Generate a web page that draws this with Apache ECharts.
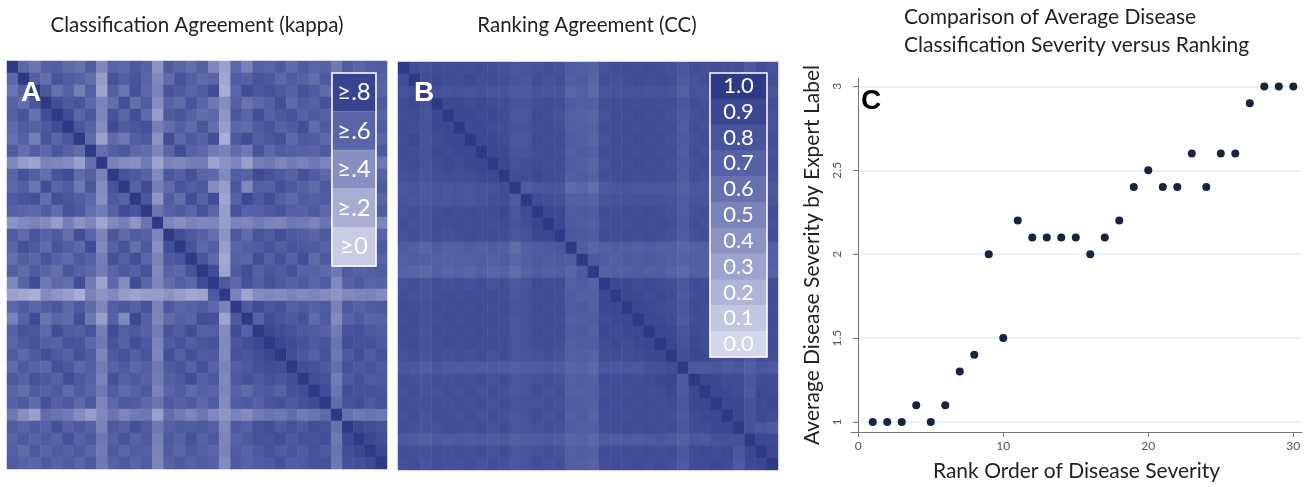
<!DOCTYPE html>
<html><head><meta charset="utf-8">
<script src="https://cdn.jsdelivr.net/npm/echarts@6/dist/echarts.min.js"></script>
<style>html,body{margin:0;padding:0;background:#fff}#c{width:1308px;height:487px}</style>
</head><body><div id="c"></div><script>
// ---------- DATA ----------
// 34 raters; lower triangle of the symmetric agreement matrices (diagonal = 1)
const raters = ['1','2','3','4','5','6','7','8','9','10','11','12','13','14','15','16','17','18','19','20','21','22','23','24','25','26','27','28','29','30','31','32','33','34'];
const kappaRows = [
 [],
 [0.66],
 [0.58,0.72],
 [0.70,0.62,0.78],
 [0.72,0.80,0.60,0.84],
 [0.64,0.74,0.70,0.76,0.86],
 [0.60,0.70,0.52,0.80,0.68,0.78],
 [0.74,0.62,0.72,0.66,0.78,0.70,0.64],
 [0.46,0.34,0.30,0.50,0.48,0.44,0.32,0.62],
 [0.68,0.82,0.72,0.62,0.80,0.86,0.64,0.72,0.50],
 [0.66,0.72,0.58,0.84,0.68,0.74,0.56,0.78,0.44,0.80],
 [0.76,0.80,0.82,0.62,0.84,0.78,0.72,0.66,0.42,0.76,0.70],
 [0.70,0.68,0.66,0.74,0.64,0.82,0.76,0.62,0.54,0.70,0.86,0.78],
 [0.40,0.46,0.50,0.44,0.34,0.52,0.40,0.48,0.30,0.46,0.52,0.38,0.58],
 [0.74,0.64,0.80,0.70,0.76,0.62,0.84,0.68,0.50,0.78,0.64,0.74,0.70,0.48],
 [0.68,0.82,0.76,0.64,0.80,0.72,0.66,0.86,0.46,0.70,0.80,0.62,0.76,0.42,0.84],
 [0.62,0.72,0.68,0.80,0.70,0.64,0.76,0.70,0.52,0.82,0.72,0.84,0.68,0.50,0.76,0.80],
 [0.72,0.64,0.74,0.68,0.62,0.78,0.70,0.66,0.54,0.68,0.76,0.70,0.82,0.46,0.70,0.66,0.80],
 [0.46,0.68,0.86,0.56,0.66,0.62,0.84,0.54,0.30,0.66,0.44,0.86,0.68,0.48,0.62,0.72,0.66,0.86],
 [0.32,0.28,0.24,0.44,0.38,0.34,0.24,0.50,0.40,0.46,0.34,0.30,0.34,0.34,0.40,0.34,0.28,0.30,0.76],
 [0.66,0.74,0.68,0.72,0.78,0.66,0.76,0.64,0.48,0.72,0.78,0.70,0.82,0.50,0.76,0.68,0.70,0.74,0.66,0.50],
 [0.50,0.70,0.86,0.58,0.68,0.64,0.84,0.56,0.32,0.70,0.46,0.88,0.70,0.48,0.64,0.72,0.68,0.84,0.82,0.30,0.76],
 [0.70,0.80,0.78,0.66,0.84,0.74,0.72,0.80,0.52,0.86,0.72,0.76,0.70,0.54,0.80,0.74,0.84,0.70,0.72,0.44,0.86,0.70],
 [0.68,0.76,0.82,0.72,0.70,0.80,0.78,0.66,0.56,0.80,0.70,0.84,0.76,0.50,0.74,0.80,0.72,0.78,0.82,0.46,0.78,0.84,0.88],
 [0.74,0.66,0.76,0.84,0.76,0.70,0.82,0.74,0.48,0.76,0.82,0.72,0.80,0.48,0.84,0.72,0.82,0.74,0.76,0.44,0.82,0.78,0.84,0.90],
 [0.64,0.76,0.70,0.66,0.82,0.76,0.66,0.72,0.54,0.70,0.76,0.66,0.72,0.56,0.76,0.80,0.70,0.82,0.70,0.50,0.72,0.76,0.82,0.86,0.84],
 [0.76,0.70,0.82,0.76,0.70,0.84,0.76,0.70,0.50,0.82,0.70,0.76,0.70,0.54,0.72,0.76,0.84,0.70,0.76,0.46,0.76,0.82,0.76,0.82,0.78,0.84],
 [0.68,0.62,0.74,0.70,0.76,0.64,0.74,0.68,0.56,0.74,0.64,0.70,0.76,0.50,0.68,0.74,0.64,0.70,0.68,0.48,0.70,0.64,0.74,0.76,0.70,0.82,0.84],
 [0.70,0.76,0.64,0.82,0.70,0.76,0.66,0.76,0.48,0.66,0.76,0.74,0.66,0.58,0.76,0.70,0.76,0.66,0.74,0.44,0.74,0.76,0.70,0.80,0.82,0.76,0.82,0.86],
 [0.56,0.42,0.32,0.62,0.58,0.54,0.44,0.34,0.46,0.58,0.48,0.54,0.56,0.32,0.62,0.54,0.48,0.56,0.46,0.38,0.50,0.44,0.54,0.58,0.56,0.62,0.54,0.58,0.64],
 [0.74,0.68,0.76,0.70,0.82,0.70,0.76,0.70,0.50,0.76,0.70,0.82,0.74,0.56,0.70,0.76,0.74,0.76,0.70,0.46,0.76,0.70,0.82,0.84,0.76,0.82,0.76,0.84,0.82,0.60],
 [0.68,0.76,0.70,0.76,0.70,0.82,0.70,0.76,0.56,0.70,0.80,0.70,0.76,0.52,0.76,0.70,0.82,0.70,0.76,0.48,0.70,0.76,0.82,0.80,0.84,0.76,0.82,0.80,0.84,0.56,0.88],
 [0.72,0.64,0.76,0.68,0.74,0.70,0.76,0.68,0.54,0.76,0.68,0.74,0.72,0.50,0.74,0.68,0.76,0.72,0.68,0.50,0.74,0.68,0.76,0.82,0.74,0.80,0.74,0.82,0.76,0.58,0.84,0.90],
 [0.74,0.70,0.68,0.76,0.70,0.74,0.68,0.76,0.56,0.70,0.76,0.68,0.74,0.48,0.70,0.76,0.70,0.74,0.70,0.44,0.76,0.70,0.74,0.76,0.82,0.74,0.76,0.80,0.82,0.56,0.82,0.84,0.88]
];
const ccRows = [
 [],
 [0.86],
 [0.82,0.84],
 [0.86,0.88,0.82],
 [0.84,0.86,0.80,0.88],
 [0.86,0.84,0.82,0.88,0.88],
 [0.84,0.88,0.80,0.86,0.88,0.88],
 [0.86,0.84,0.82,0.88,0.86,0.88,0.88],
 [0.84,0.86,0.80,0.86,0.88,0.86,0.88,0.90],
 [0.82,0.84,0.80,0.84,0.86,0.84,0.86,0.88,0.90],
 [0.78,0.80,0.76,0.80,0.78,0.80,0.78,0.80,0.82,0.84],
 [0.80,0.78,0.76,0.80,0.78,0.80,0.78,0.80,0.84,0.84,0.74],
 [0.82,0.84,0.80,0.84,0.86,0.84,0.86,0.84,0.86,0.88,0.78,0.86],
 [0.84,0.82,0.80,0.86,0.84,0.86,0.84,0.86,0.84,0.86,0.80,0.84,0.90],
 [0.82,0.84,0.80,0.84,0.82,0.84,0.86,0.84,0.86,0.84,0.78,0.82,0.88,0.90],
 [0.74,0.72,0.68,0.74,0.72,0.72,0.74,0.72,0.74,0.72,0.64,0.72,0.74,0.76,0.78],
 [0.72,0.74,0.72,0.72,0.70,0.72,0.72,0.74,0.72,0.74,0.68,0.72,0.76,0.74,0.76,0.74],
 [0.70,0.68,0.66,0.72,0.68,0.70,0.68,0.72,0.68,0.70,0.62,0.70,0.74,0.72,0.74,0.68,0.76],
 [0.82,0.84,0.80,0.84,0.82,0.84,0.82,0.84,0.82,0.84,0.76,0.80,0.86,0.84,0.86,0.72,0.74,0.70],
 [0.84,0.82,0.80,0.84,0.86,0.84,0.86,0.84,0.86,0.84,0.78,0.82,0.84,0.86,0.84,0.74,0.72,0.72,0.88],
 [0.86,0.84,0.82,0.86,0.84,0.86,0.84,0.86,0.84,0.86,0.80,0.82,0.86,0.84,0.86,0.74,0.76,0.72,0.88,0.90],
 [0.84,0.86,0.82,0.84,0.86,0.84,0.86,0.84,0.86,0.84,0.78,0.82,0.84,0.86,0.84,0.72,0.74,0.74,0.86,0.88,0.90],
 [0.86,0.84,0.80,0.86,0.84,0.86,0.84,0.86,0.84,0.86,0.78,0.82,0.86,0.84,0.86,0.74,0.76,0.72,0.88,0.86,0.88,0.90],
 [0.84,0.86,0.82,0.84,0.86,0.84,0.86,0.84,0.86,0.84,0.78,0.82,0.84,0.86,0.84,0.72,0.74,0.74,0.86,0.88,0.86,0.88,0.90],
 [0.82,0.84,0.80,0.84,0.82,0.84,0.82,0.84,0.82,0.84,0.78,0.80,0.82,0.84,0.82,0.72,0.72,0.70,0.84,0.86,0.84,0.86,0.88,0.90],
 [0.78,0.76,0.72,0.78,0.76,0.74,0.76,0.74,0.76,0.74,0.72,0.74,0.74,0.76,0.74,0.68,0.70,0.66,0.78,0.76,0.78,0.76,0.80,0.82,0.84],
 [0.84,0.82,0.80,0.84,0.82,0.84,0.82,0.84,0.82,0.84,0.78,0.80,0.82,0.84,0.82,0.72,0.74,0.72,0.86,0.84,0.86,0.84,0.86,0.88,0.90,0.76],
 [0.82,0.84,0.80,0.82,0.84,0.82,0.84,0.82,0.84,0.82,0.78,0.80,0.84,0.82,0.84,0.72,0.72,0.72,0.84,0.86,0.84,0.86,0.84,0.86,0.88,0.76,0.90],
 [0.84,0.82,0.82,0.84,0.82,0.84,0.82,0.84,0.82,0.84,0.80,0.82,0.82,0.84,0.82,0.74,0.74,0.72,0.86,0.84,0.86,0.84,0.86,0.84,0.86,0.78,0.88,0.90],
 [0.82,0.84,0.80,0.84,0.84,0.82,0.84,0.82,0.84,0.82,0.78,0.80,0.84,0.82,0.84,0.72,0.74,0.70,0.84,0.86,0.84,0.86,0.84,0.86,0.84,0.76,0.86,0.88,0.90],
 [0.84,0.82,0.80,0.82,0.84,0.84,0.82,0.84,0.82,0.84,0.78,0.80,0.82,0.84,0.82,0.74,0.72,0.72,0.84,0.84,0.86,0.84,0.86,0.84,0.86,0.78,0.86,0.86,0.88,0.90],
 [0.76,0.74,0.72,0.76,0.74,0.76,0.74,0.76,0.74,0.76,0.72,0.74,0.74,0.76,0.74,0.68,0.70,0.66,0.76,0.74,0.76,0.74,0.76,0.78,0.76,0.72,0.78,0.76,0.80,0.82,0.82],
 [0.84,0.82,0.82,0.84,0.82,0.84,0.82,0.84,0.82,0.84,0.78,0.80,0.82,0.84,0.82,0.72,0.74,0.72,0.86,0.84,0.86,0.84,0.86,0.84,0.86,0.78,0.86,0.88,0.86,0.88,0.78,0.90],
 [0.82,0.84,0.80,0.84,0.82,0.82,0.84,0.82,0.84,0.82,0.78,0.80,0.84,0.82,0.84,0.72,0.72,0.70,0.84,0.86,0.84,0.86,0.84,0.86,0.84,0.76,0.86,0.86,0.88,0.86,0.76,0.88,0.90]
];
const legendALabels = ['≥.8','≥.6','≥.4','≥.2','≥0'];
const legendAValues = [0.92, 0.68, 0.42, 0.24, 0.06];
const legendBLabels = ['1.0','0.9','0.8','0.7','0.6','0.5','0.4','0.3','0.2','0.1','0.0'];
const legendBValues = [1.0, 0.9, 0.8, 0.7, 0.6, 0.5, 0.4, 0.3, 0.2, 0.1, 0.0];
const rankX = [1,2,3,4,5,6,7,8,9,10,11,12,13,14,15,16,17,18,19,20,21,22,23,24,25,26,27,28,29,30];
const severityY = [1,1,1,1.1,1,1.1,1.3,1.4,2,1.5,2.2,2.1,2.1,2.1,2.1,2,2.1,2.2,2.4,2.5,2.4,2.4,2.6,2.4,2.6,2.6,2.9,3,3,3];
const xTicks = [0,10,20,30];
const yTicks = [1,1.5,2,2.5,3];

// ---------- BUILD ----------
function fullMatrix(rows){
  const out=[]; const n=rows.length;
  for(let i=0;i<n;i++) for(let j=0;j<n;j++){
    const v = i===j ? 1 : (i>j ? rows[i][j] : rows[j][i]);
    out.push([j,i,v]);
  }
  return out;
}
const scaleColors = ['#d3d7eb','#c1c6e1','#afb5d7','#9da4cd','#8b93c3','#7982b9','#6671ae','#5662a5','#47549b','#3b4791','#2e3a85'];
const FONT = 'Lato';

const chart = echarts.init(document.getElementById('c'), null, {renderer:'canvas'});
const option = {
  animation:false,
  backgroundColor:'#fff',
  grid:[
    {left:7, top:61, width:380, height:408},
    {left:398, top:62, width:380, height:408},
    {left:332, top:73, width:44, height:193},
    {left:710, top:73, width:57, height:284},
    {left:851, top:78, width:451, height:355}
  ],
  xAxis:[
    {type:'category', gridIndex:0, data:raters, show:false},
    {type:'category', gridIndex:1, data:raters, show:false},
    {type:'category', gridIndex:2, data:['k'], show:false},
    {type:'category', gridIndex:3, data:['c'], show:false},
    {type:'value', gridIndex:4, min:-0.5, max:30.6,
     name:'Rank Order of Disease Severity', nameLocation:'middle', nameGap:29,
     nameTextStyle:{fontSize:21, color:'#222', fontFamily:FONT},
     axisLine:{lineStyle:{color:'#777', width:1}},
     axisTick:{show:true, length:5, customValues:xTicks, lineStyle:{color:'#777'}},
     axisLabel:{customValues:xTicks, color:'#555', fontSize:12, margin:8, fontFamily:FONT},
     splitLine:{show:false}}
  ],
  yAxis:[
    {type:'category', gridIndex:0, data:raters, show:false, inverse:true},
    {type:'category', gridIndex:1, data:raters, show:false, inverse:true},
    {type:'category', gridIndex:2, data:legendALabels, show:false, inverse:true},
    {type:'category', gridIndex:3, data:legendBLabels, show:false, inverse:true},
    {type:'value', gridIndex:4, min:0.94, max:3.05,
     name:'Average Disease Severity by Expert Label', nameLocation:'middle', nameGap:28,
     nameTextStyle:{fontSize:21, color:'#222', fontFamily:FONT},
     axisLine:{show:true, lineStyle:{color:'#777', width:1}},
     axisTick:{show:true, length:5, customValues:yTicks, lineStyle:{color:'#777'}},
     axisLabel:{customValues:yTicks, rotate:90, color:'#555', fontSize:12, margin:8, fontFamily:FONT},
     splitLine:{show:true, lineStyle:{color:'#e3ecee', width:1.5}}}
  ],
  visualMap:{type:'continuous', min:0, max:1, show:false, seriesIndex:[0,1,2,3], inRange:{color:scaleColors}},
  series:[
    {type:'heatmap', xAxisIndex:0, yAxisIndex:0, data:fullMatrix(kappaRows), progressive:0, emphasis:{disabled:true}},
    {type:'heatmap', xAxisIndex:1, yAxisIndex:1, data:fullMatrix(ccRows), progressive:0, emphasis:{disabled:true}},
    {type:'heatmap', xAxisIndex:2, yAxisIndex:2, data:legendAValues.map((v,i)=>[0,i,v]), emphasis:{disabled:true},
     itemStyle:{borderColor:'rgba(255,255,255,0.35)', borderWidth:0.5},
     label:{show:true, formatter:p=>legendALabels[p.data[1]], color:'#fff', fontSize:24, fontFamily:FONT}},
    {type:'heatmap', xAxisIndex:3, yAxisIndex:3, data:legendBValues.map((v,i)=>[0,i,v]), emphasis:{disabled:true},
     label:{show:true, formatter:p=>legendBLabels[p.data[1]], color:'#fff', fontSize:22, fontFamily:FONT}},
    {type:'scatter', xAxisIndex:4, yAxisIndex:4, data:rankX.map((x,i)=>[x,severityY[i]]), symbolSize:8,
     itemStyle:{color:'#17233f', opacity:1}, emphasis:{disabled:true}}
  ],
  graphic:[
    {type:'text', x:197, y:25, style:{text:'Classification Agreement (kappa)', fill:'#222', font:'20.5px '+FONT, textAlign:'center', textVerticalAlign:'middle'}},
    {type:'text', x:587, y:25, style:{text:'Ranking Agreement (CC)', fill:'#222', font:'20.5px '+FONT, textAlign:'center', textVerticalAlign:'middle'}},
    {type:'text', x:904, y:3, style:{text:'Comparison of Average Disease\nClassification Severity versus Ranking', fill:'#222', font:'21px '+FONT, lineHeight:28, textAlign:'left', textVerticalAlign:'top'}},
    {type:'rect', shape:{x:332, y:73, width:44, height:193}, z:100, style:{fill:'none', stroke:'#fff', lineWidth:1.5}},
    {type:'rect', shape:{x:710, y:73, width:57, height:284}, z:100, style:{fill:'none', stroke:'#fff', lineWidth:1.5}},
    {type:'text', x:21, y:93, z:100, style:{text:'A', fill:'#fff', font:'bold 28px Arial, "Liberation Sans"', textAlign:'left', textVerticalAlign:'middle'}},
    {type:'text', x:414, y:93, z:100, style:{text:'B', fill:'#fff', font:'bold 28px Arial, "Liberation Sans"', textAlign:'left', textVerticalAlign:'middle'}},
    {type:'text', x:861, y:101, z:100, style:{text:'C', fill:'#000', font:'bold 28px Arial, "Liberation Sans"', textAlign:'left', textVerticalAlign:'middle'}}
  ]
};
chart.setOption(option);
</script></body></html>
